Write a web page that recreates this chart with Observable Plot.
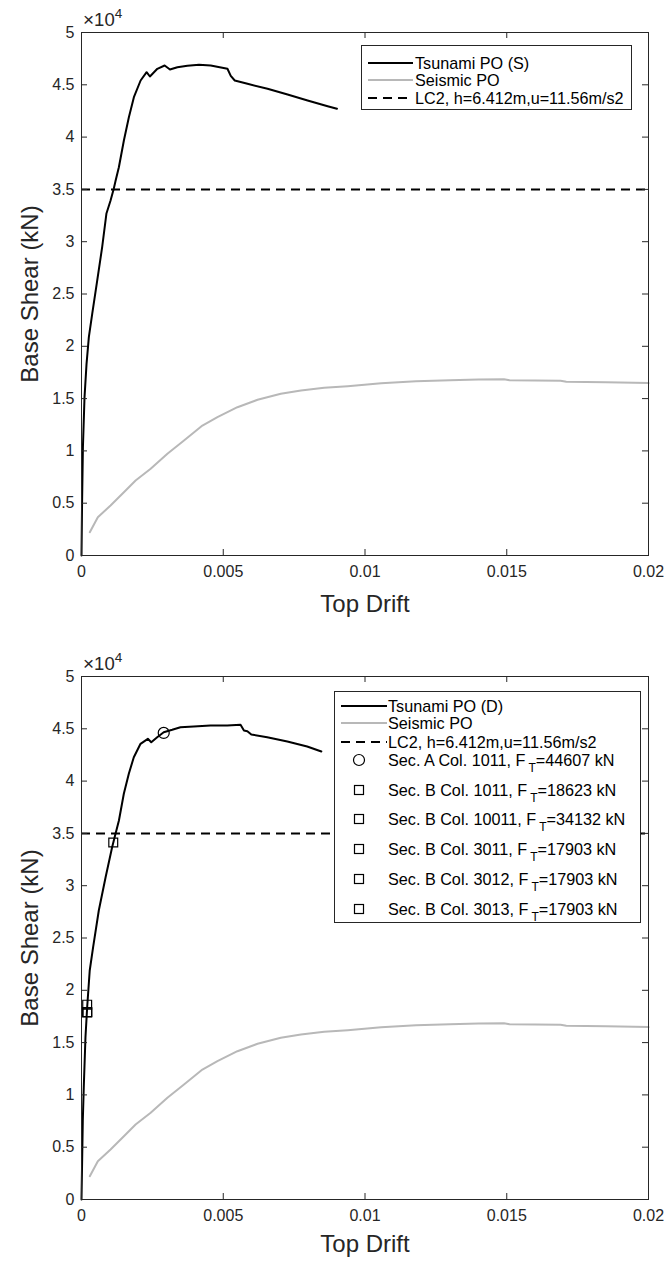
<!DOCTYPE html>
<html><head><meta charset="utf-8">
<script src="https://cdn.jsdelivr.net/npm/d3@7"></script>
<script src="https://cdn.jsdelivr.net/npm/@observablehq/plot@0.6"></script>
<style>
body{margin:0;background:#fff;font-family:"Liberation Sans",Arial,Helvetica,sans-serif;}
.panel{position:relative;width:664px;overflow:hidden;}
.panel > svg{display:block;}
.legend{position:absolute;background:#fff;border:1px solid #262626;box-sizing:border-box;font-size:16.2px;color:#000;}
.row{position:absolute;left:0;white-space:nowrap;height:0;}
.row svg{position:absolute;overflow:visible;}
.row span.t{position:absolute;top:-9px;line-height:18px;}
.row .sub{position:relative;top:6px;font-size:12px;margin-left:3px;}
.exp{position:absolute;font-size:18.5px;line-height:18px;color:#262626;white-space:nowrap;}
.exp .x{font-size:19px;}
.exp .sup{position:relative;top:-8px;font-size:13.5px;}
</style></head><body>
<div id="top" class="panel"></div>
<div id="bot" class="panel"></div>
<script>
// ---- data ----
const xTicks = [0, 0.005, 0.01, 0.015, 0.02];
const yTicks = [0, 5000, 10000, 15000, 20000, 25000, 30000, 35000, 40000, 45000, 50000];
const lc2Shear = 35000;

const seisDrift = [0.000293, 0.000576, 0.001025, 0.001495, 0.001908, 0.00244, 0.00303, 0.003615, 0.004265, 0.004795, 0.0055, 0.00621, 0.00703, 0.00774, 0.00856, 0.00939, 0.01057, 0.0118, 0.013, 0.014, 0.0149, 0.0151, 0.0169, 0.0171, 0.0185, 0.02];
const seisShear = [2228, 3662, 4780, 6052, 7170, 8290, 9723, 10994, 12428, 13222, 14178, 14885, 15459, 15774, 16032, 16185, 16472, 16650, 16760, 16820, 16850, 16750, 16700, 16620, 16560, 16480];

const tsuSDrift = [0, 0.00002, 0.00005, 0.000106, 0.000177, 0.00026, 0.000378, 0.000555, 0.00073, 0.00088, 0.001025, 0.00114, 0.0012, 0.001318, 0.001495, 0.001671, 0.001848, 0.002085, 0.002297, 0.002413, 0.002675, 0.002933, 0.00312, 0.003382, 0.003735, 0.004145, 0.004558, 0.005148, 0.005265, 0.005406, 0.005855, 0.006562, 0.007269, 0.007975, 0.008682, 0.009011];
const tsuSShear = [0, 5000, 10350, 15100, 18300, 20900, 23100, 26300, 29500, 32700, 33940, 35086, 35800, 37122, 39675, 41902, 43815, 45411, 46205, 45794, 46530, 46845, 46463, 46683, 46816, 46912, 46845, 46530, 45860, 45411, 45096, 44618, 44073, 43499, 42954, 42706];

const tsuDDrift = [0, 0.000046, 0.00008, 0.00014, 0.0002, 0.00029, 0.00041, 0.00061, 0.00085, 0.00108, 0.0012, 0.00132, 0.001493, 0.001669, 0.001845, 0.002082, 0.00234, 0.00246, 0.00267, 0.0029, 0.0032, 0.00349, 0.00396, 0.00455, 0.00514, 0.00561, 0.00573, 0.00585, 0.00599, 0.00655, 0.00726, 0.00796, 0.00846];
const tsuDShear = [0, 7550, 10736, 15516, 18384, 21893, 24120, 27629, 30813, 33681, 34962, 36233, 38786, 40698, 42285, 43566, 44044, 43719, 44197, 44675, 44905, 45153, 45220, 45315, 45315, 45382, 44838, 44771, 44455, 44197, 43786, 43308, 42830];

const colLabels = ["Sec. A Col. 1011", "Sec. B Col. 1011", "Sec. B Col. 10011", "Sec. B Col. 3011", "Sec. B Col. 3012", "Sec. B Col. 3013"];
const colForce = [44607, 18623, 34132, 17903, 17903, 17903];
const colDrift = [0.0029, 0.0002, 0.00112, 0.0002, 0.0002, 0.0002];
const colSymbol = ["circle", "square", "square", "square", "square", "square"];

const seriesNames = {tsS: "Tsunami PO (S)", tsD: "Tsunami PO (D)", seis: "Seismic PO", lc2: "LC2, h=6.412m,u=11.56m/s2"};
const xTitle = "Top Drift", yTitle = "Base Shear (kN)";

// ---- chart ----
const W = 664, mL = 81, mR = 16, mT = 32;
const AX = "#262626";

function makePlot(tsX, tsY, height, mB, withMarkers, xTitleDy) {
  const innerH = height - mT - mB, innerW = W - mL - mR;
  const ts = tsX.map((x, i) => ({x, y: tsY[i]}));
  const se = seisDrift.map((x, i) => ({x, y: seisShear[i]}));
  const inner = xTicks.slice(1, -1), innerY = yTicks.slice(1, -1);
  const marks = [
    Plot.ruleY([lc2Shear], {stroke: "#000", strokeWidth: 2, strokeDasharray: "9,6"}),
    Plot.line(se, {x: "x", y: "y", stroke: "#b8b8b8", strokeWidth: 2}),
    Plot.line(ts, {x: "x", y: "y", stroke: "#000", strokeWidth: 2})
  ];
  if (withMarkers) {
    const cols = colLabels.map((l, i) => ({label: l, x: colDrift[i], y: colForce[i], s: colSymbol[i]}));
    marks.push(Plot.dot(cols.filter(d => d.s === "square"), {x: "x", y: "y", symbol: "square", r: 5, stroke: "#000", strokeWidth: 1.2, fill: "none"}));
    marks.push(Plot.dot(cols.filter(d => d.s === "circle"), {x: "x", y: "y", symbol: "circle", r: 5.5, stroke: "#000", strokeWidth: 1.2, fill: "none"}));
  }
  marks.push(
    Plot.frame({stroke: AX, strokeWidth: 1}),
    Plot.tickX(inner, {x: d => d, insetTop: innerH - 6, stroke: AX}),
    Plot.tickX(inner, {x: d => d, insetBottom: innerH - 6, stroke: AX}),
    Plot.tickY(innerY, {y: d => d, insetRight: innerW - 6, stroke: AX}),
    Plot.tickY(innerY, {y: d => d, insetLeft: innerW - 6, stroke: AX}),
    Plot.axisX(xTicks, {tickSize: 0, tickPadding: 10, tickFormat: d => String(d), label: null, fontSize: 16, fill: AX}),
    Plot.axisY(yTicks, {tickSize: 0, tickPadding: 7, tickFormat: d => String(d / 1e4), label: null, fontSize: 16, fill: AX}),
    Plot.text([xTitle], {text: d => d, frameAnchor: "bottom", textAnchor: "middle", lineAnchor: "middle", dy: xTitleDy, fontSize: 24, fill: AX}),
    Plot.text([yTitle], {text: d => d, frameAnchor: "left", textAnchor: "middle", lineAnchor: "middle", dx: -51, rotate: -90, fontSize: 24, fill: AX})
  );
  return Plot.plot({
    width: W, height, marginLeft: mL, marginRight: mR, marginTop: mT, marginBottom: mB,
    style: {fontFamily: '"Liberation Sans", Arial, Helvetica, sans-serif', background: "#fff", overflow: "visible"},
    x: {domain: [0, 0.02]},
    y: {domain: [0, 50000]},
    marks
  });
}

function addExp(panel) {
  const e = document.createElement("div");
  e.className = "exp";
  e.style.left = "83px"; e.style.top = "11px";
  e.innerHTML = "<span class=\"x\">&times;</span>10<span class=\"sup\">4</span>";
  panel.appendChild(e);
}

function addLegend(panel, box, entries) {
  const lg = document.createElement("div");
  lg.className = "legend";
  Object.assign(lg.style, {left: box.left + "px", top: box.top + "px", width: box.width + "px", height: box.height + "px"});
  entries.forEach(en => {
    const r = document.createElement("div");
    r.className = "row";
    r.style.top = en.y + "px";
    let sw = "";
    if (en.type === "line") {
      sw = `<svg width="1" height="1" style="left:${box.sample0}px;top:0"><line x1="0" x2="${box.sample1 - box.sample0}" y1="0" y2="0" stroke="${en.stroke}" stroke-width="2" ${en.dash ? `stroke-dasharray="${en.dash}"` : ""}/></svg>`;
    } else if (en.type === "circle") {
      sw = `<svg width="1" height="1" style="left:${box.mark}px;top:0"><circle cx="0" cy="0" r="5.5" fill="none" stroke="#000" stroke-width="1.2"/></svg>`;
    } else {
      sw = `<svg width="1" height="1" style="left:${box.mark}px;top:0"><rect x="-4.5" y="-4.5" width="9" height="9" fill="none" stroke="#000" stroke-width="1.2"/></svg>`;
    }
    r.innerHTML = sw + `<span class="t" style="left:${box.text}px">${en.html}</span>`;
    lg.appendChild(r);
  });
  panel.appendChild(lg);
}

const topPanel = document.getElementById("top");
topPanel.appendChild(makePlot(tsuSDrift, tsuSShear, 644, 89, false, 49));
addExp(topPanel);
addLegend(topPanel, {left: 361, top: 45, width: 271, height: 65, sample0: 6, sample1: 51, text: 53, mark: 24}, [
  {type: "line", stroke: "#000", html: seriesNames.tsS, y: 17},
  {type: "line", stroke: "#b8b8b8", html: seriesNames.seis, y: 34},
  {type: "line", stroke: "#000", dash: "9,6", html: seriesNames.lc2, y: 52}
]);

const botPanel = document.getElementById("bot");
botPanel.appendChild(makePlot(tsuDDrift, tsuDShear, 617, 62, true, 45));
addExp(botPanel);
const botEntries = [
  {type: "line", stroke: "#000", html: seriesNames.tsD, y: 14},
  {type: "line", stroke: "#b8b8b8", html: seriesNames.seis, y: 31},
  {type: "line", stroke: "#000", dash: "9,6", html: seriesNames.lc2, y: 50}
];
colLabels.forEach((l, i) => botEntries.push({
  type: colSymbol[i], y: 68 + i * 29.7,
  html: `${l}, F<span class="sub">T</span>=${colForce[i]} kN`
}));
addLegend(botPanel, {left: 334, top: 47, width: 307, height: 232, sample0: 6, sample1: 52, text: 53, mark: 24}, botEntries);
</script>
</body></html>
